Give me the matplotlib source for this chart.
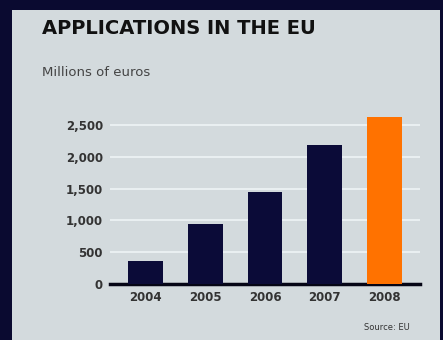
import matplotlib
matplotlib.use("Agg")
import matplotlib.pyplot as plt
from matplotlib.patches import Rectangle

years = ["2004", "2005", "2006", "2007", "2008"]
values = [360, 940, 1440, 2190, 2620]
yticks = [0, 500, 1000, 1500, 2000, 2500]
colors = ["#0b0b38", "#0b0b38", "#0b0b38", "#0b0b38", "#ff7200"]

fig = plt.figure(figsize=(4.43, 3.4), dpi=100)
fig.patch.set_facecolor("#0a0a30")
# inner panel
fig.add_artist(Rectangle((12/443, 0), 428/443, 330/340, transform=fig.transFigure,
                         facecolor="#d3dadd", edgecolor="none", zorder=0))

ax = fig.add_axes([110/443, 56/340, 310/443, 180/340])
ax.set_facecolor("#d3dadd")
x = range(len(years))
ax.bar(x, values, width=0.58, color=colors, zorder=3)
ax.set_ylim(0, 2830)
ax.set_xlim(-0.6, 4.6)
ax.set_yticks(yticks)
ax.set_yticklabels([f"{v:,}" if v else "0" for v in yticks], fontsize=8.5, color="#333333", fontweight="bold")
ax.set_xticks(list(x))
ax.set_xticklabels(years, fontsize=8.5, color="#333333", fontweight="bold")
ax.tick_params(length=0, pad=5)
for s in ["top", "right", "left"]:
    ax.spines[s].set_visible(False)
ax.spines["bottom"].set_linewidth(2.5)
ax.spines["bottom"].set_color("#050515")
ax.grid(axis="y", color="#eef4f6", linewidth=1.2, zorder=0)

fig.text(42/443, 1 - 28/340, "APPLICATIONS IN THE EU", fontsize=14, fontweight="heavy",
         color="#111111", va="center", ha="left")
fig.text(42/443, 1 - 73/340, "Millions of euros", fontsize=9.5, color="#444444",
         va="center", ha="left")
fig.text(410/443, 1 - 328/340, "Source: EU", fontsize=6, color="#333333",
         va="center", ha="right")

fig.savefig("out.png", dpi=100, facecolor=fig.get_facecolor())
